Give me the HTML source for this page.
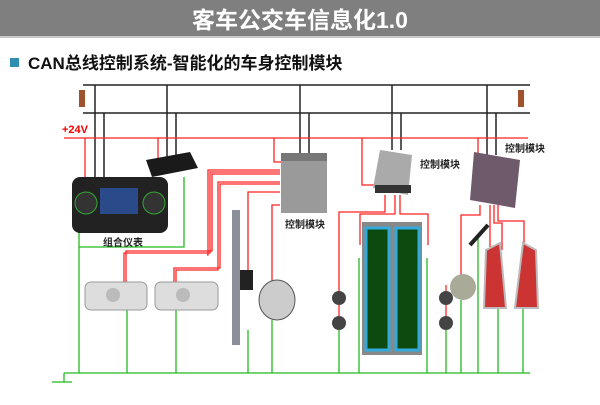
<!DOCTYPE html>
<html><head><meta charset="utf-8"><style>
body{margin:0;width:600px;height:400px;overflow:hidden;background:#fff;font-family:"Liberation Sans","Noto Sans CJK SC",sans-serif}
</style></head><body>
<svg width="600" height="400" xmlns="http://www.w3.org/2000/svg" font-family="Liberation Sans, Noto Sans CJK SC, sans-serif">
<rect x="0" y="0" width="600" height="36" fill="#7f7f7f"/>
<rect x="0" y="36" width="600" height="2" fill="#c8c8c8"/>
<text x="300" y="28" fill="#fff" font-size="23" font-weight="bold" text-anchor="middle">客车公交车信息化1.0</text>
<rect x="10" y="58" width="9" height="9" fill="#2f8fb0"/>
<text x="28" y="69" font-size="17" font-weight="bold" fill="#111">CAN总线控制系统-智能化的车身控制模块</text>
<!-- CAN bus -->
<g stroke="#222" stroke-width="1.5" fill="none">
<line x1="83" y1="85" x2="530" y2="85"/><line x1="83" y1="113" x2="530" y2="113"/>
<line x1="95" y1="85" x2="95" y2="185"/><line x1="104" y1="113" x2="104" y2="185"/>
<line x1="167" y1="85" x2="167" y2="158"/><line x1="176" y1="113" x2="176" y2="158"/>
<line x1="300" y1="85" x2="300" y2="155"/><line x1="309" y1="113" x2="309" y2="155"/>
<line x1="392" y1="85" x2="392" y2="150"/><line x1="401" y1="113" x2="401" y2="150"/>
<line x1="487" y1="85" x2="487" y2="155"/><line x1="496" y1="113" x2="496" y2="155"/>
</g>
<rect x="79" y="90" width="6" height="17" fill="#a0522d"/><rect x="518" y="90" width="6" height="17" fill="#a0522d"/>
<!-- +24V -->
<text x="62" y="133" font-size="11" font-weight="bold" fill="#e00">+24V</text>
<g stroke="#f22" stroke-width="1.3" fill="none">
<line x1="64" y1="138" x2="528" y2="138"/>
<line x1="85" y1="138" x2="85" y2="185"/>
<line x1="158" y1="138" x2="158" y2="158"/>
<polyline points="274,138 274,162 282,162"/>
<polyline points="362,138 362,185 375,185"/>
<polyline points="478,138 478,160"/>
<polyline points="280,170 208,170 208,255 207,255"/>
<polyline points="280,172 210,172 210,253 124,253 124,282"/>
<polyline points="280,174 212,174 212,251 126,251 126,282"/>
<polyline points="280,182 218,182 218,270 176,270 176,282"/>
<polyline points="280,184 220,184 220,268 174,268 174,282"/>
<polyline points="280,192 248,192 248,270"/>
<polyline points="280,205 272,205 272,285"/>
<polyline points="385,195 385,212 339,212 339,292"/>
<polyline points="395,195 395,214 360,214 360,245"/>
<polyline points="400,195 400,214 428,214 428,245"/>
<polyline points="480,205 480,215 461,215 461,275"/>
<polyline points="490,205 490,290"/>
<polyline points="494,205 494,223 502,223 502,250"/>
<polyline points="498,205 498,221 524,221 524,250"/>
<line x1="339" y1="305" x2="339" y2="316"/><line x1="446" y1="305" x2="446" y2="316"/>
<polyline points="446,292 446,285"/>
</g>
<!-- ground -->
<g stroke="#2b2" stroke-width="1.3" fill="none">
<line x1="64" y1="373" x2="530" y2="373"/>
<line x1="64" y1="373" x2="64" y2="382"/><line x1="52" y1="382" x2="72" y2="382"/>
<line x1="79" y1="232" x2="79" y2="373"/>
<polyline points="184,177 184,247 79,247"/>
<line x1="127" y1="310" x2="127" y2="373"/><line x1="176" y1="310" x2="176" y2="373"/>
<line x1="248" y1="330" x2="248" y2="373"/><line x1="272" y1="320" x2="272" y2="373"/>
<line x1="339" y1="330" x2="339" y2="373"/><polyline points="359,258 359,373"/><polyline points="427,258 427,373"/>
<line x1="446" y1="330" x2="446" y2="373"/><line x1="461" y1="300" x2="461" y2="373"/>
<line x1="478" y1="235" x2="478" y2="373"/><line x1="498" y1="308" x2="498" y2="373"/><line x1="523" y1="308" x2="523" y2="373"/>
</g>
<!-- dashboard -->
<rect x="72" y="177" width="96" height="56" rx="8" fill="#222"/>
<rect x="100" y="188" width="38" height="26" fill="#2a4a8a"/>
<circle cx="86" cy="203" r="11" fill="#333" stroke="#3a3" stroke-width="1"/><circle cx="154" cy="203" r="11" fill="#333" stroke="#3a3" stroke-width="1"/>
<text x="103" y="246" font-size="10" font-weight="bold" fill="#222">组合仪表</text>
<!-- switch panel -->
<polygon points="146,160 190,152 198,168 152,177" fill="#1a1a1a"/>
<!-- ECU -->
<rect x="281" y="153" width="46" height="60" fill="#9a9a9a"/><rect x="281" y="153" width="46" height="8" fill="#777"/>
<text x="285" y="228" font-size="10" font-weight="bold" fill="#222">控制模块</text>
<!-- mid module -->
<polygon points="380,150 412,155 408,195 373,188" fill="#aaa"/><rect x="375" y="185" width="36" height="8" fill="#333"/>
<text x="420" y="168" font-size="10" font-weight="bold" fill="#222">控制模块</text>
<!-- right module -->
<polygon points="474,152 520,160 515,208 470,200" fill="#6e5a6a"/>
<text x="505" y="152" font-size="10" font-weight="bold" fill="#222">控制模块</text>
<!-- headlights -->
<rect x="85" y="282" width="62" height="28" rx="6" fill="#ddd" stroke="#999"/><circle cx="113" cy="295" r="7" fill="#bbb"/>
<rect x="155" y="282" width="63" height="28" rx="6" fill="#ddd" stroke="#999"/><circle cx="183" cy="295" r="7" fill="#bbb"/>
<!-- wiper -->
<rect x="232" y="210" width="8" height="135" fill="#8a8f99"/><rect x="240" y="270" width="13" height="20" fill="#222"/>
<!-- horn -->
<ellipse cx="277" cy="300" rx="18" ry="20" fill="#ccc" stroke="#555"/>
<!-- small lights -->
<circle cx="339" cy="298" r="7" fill="#444"/><circle cx="339" cy="323" r="7" fill="#444"/>
<circle cx="446" cy="298" r="7" fill="#444"/><circle cx="446" cy="323" r="7" fill="#444"/>
<!-- door -->
<rect x="362" y="222" width="60" height="133" fill="#888"/>
<rect x="366" y="228" width="23" height="122" fill="#0c4a10" stroke="#3ad" stroke-width="3"/>
<rect x="396" y="228" width="23" height="122" fill="#0c4a10" stroke="#3ad" stroke-width="3"/>
<!-- buzzer -->
<circle cx="463" cy="287" r="13" fill="#aa9"/>
<line x1="470" y1="245" x2="488" y2="225" stroke="#222" stroke-width="4"/>
<!-- tail lights -->
<path d="M486,250 L500,243 L506,308 L484,308 Z" fill="#c33" stroke="#bbb" stroke-width="2"/>
<path d="M523,243 L536,250 L538,308 L515,308 Z" fill="#c33" stroke="#bbb" stroke-width="2"/>
</svg>
</body></html>
